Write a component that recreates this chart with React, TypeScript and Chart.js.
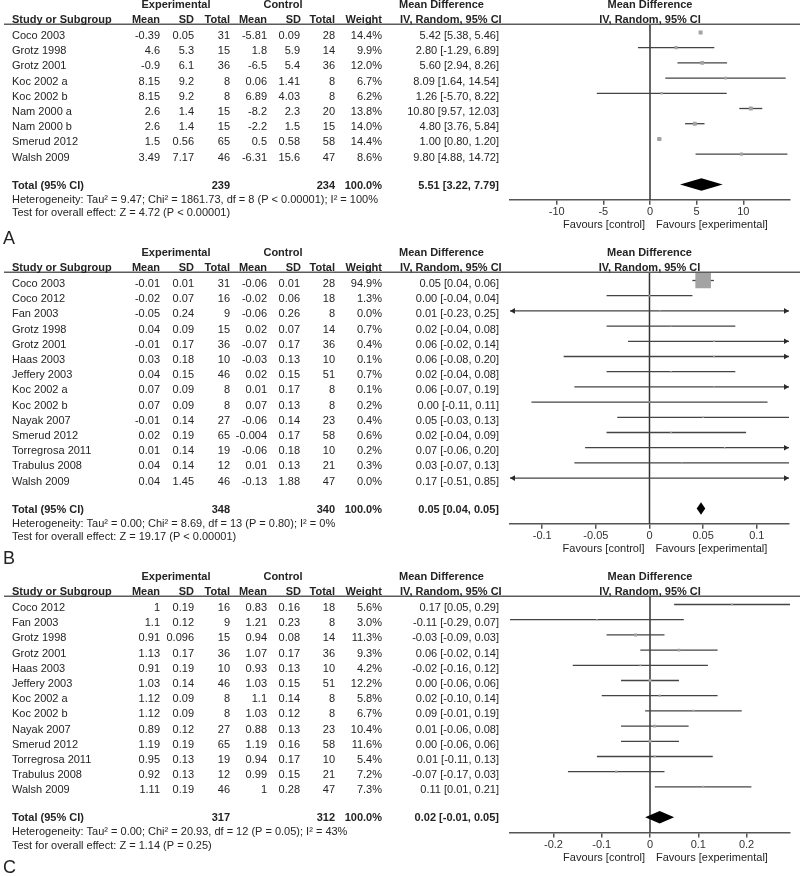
import React, { useEffect, useRef } from "react";
import { Chart, registerables } from "chart.js";

Chart.register(...registerables);

const FONT = '"Liberation Sans", Arial, Helvetica, sans-serif';
const TEXT = "#242424";

// ---------------- Panel A ----------------
const A_STUDIES = ["Coco 2003", "Grotz 1998", "Grotz 2001", "Koc 2002 a", "Koc 2002 b", "Nam 2000 a", "Nam 2000 b", "Smerud 2012", "Walsh 2009"];
const A_EXP_MEAN = [-0.39, 4.6, -0.9, 8.15, 8.15, 2.6, 2.6, 1.5, 3.49];
const A_EXP_SD = [0.05, 5.3, 6.1, 9.2, 9.2, 1.4, 1.4, 0.56, 7.17];
const A_EXP_N = [31, 15, 36, 8, 8, 15, 15, 65, 46];
const A_CTL_MEAN = [-5.81, 1.8, -6.5, 0.06, 6.89, -8.2, -2.2, 0.5, -6.31];
const A_CTL_SD = [0.09, 5.9, 5.4, 1.41, 4.03, 2.3, 1.5, 0.58, 15.6];
const A_CTL_N = [28, 14, 36, 8, 8, 20, 15, 58, 47];
const A_WEIGHT = [14.4, 9.9, 12.0, 6.7, 6.2, 13.8, 14.0, 14.4, 8.6];
const A_MD = [5.42, 2.8, 5.6, 8.09, 1.26, 10.8, 4.8, 1.0, 9.8];
const A_LO = [5.38, -1.29, 2.94, 1.64, -5.7, 9.57, 3.76, 0.8, 4.88];
const A_HI = [5.46, 6.89, 8.26, 14.54, 8.22, 12.03, 5.84, 1.2, 14.72];
const A_POOLED = [5.51, 3.22, 7.79];
const A_HET = "Heterogeneity: Tau² = 9.47; Chi² = 1861.73, df = 8 (P < 0.00001); I² = 100%";
const A_TEST = "Test for overall effect: Z = 4.72 (P < 0.00001)";
const A_TICKS = [-10, -5, 0, 5, 10];
const A_TICK_LABELS = ["-10", "-5", "0", "5", "10"];
const A_RANGE = [-15, 15];

// ---------------- Panel B ----------------
const B_STUDIES = ["Coco 2003", "Coco 2012", "Fan 2003", "Grotz 1998", "Grotz 2001", "Haas 2003", "Jeffery 2003", "Koc 2002 a", "Koc 2002 b", "Nayak 2007", "Smerud 2012", "Torregrosa 2011", "Trabulus 2008", "Walsh 2009"];
const B_EXP_MEAN = [-0.01, -0.02, -0.05, 0.04, -0.01, 0.03, 0.04, 0.07, 0.07, -0.01, 0.02, 0.01, 0.04, 0.04];
const B_EXP_SD = [0.01, 0.07, 0.24, 0.09, 0.17, 0.18, 0.15, 0.09, 0.09, 0.14, 0.19, 0.14, 0.14, 1.45];
const B_EXP_N = [31, 16, 9, 15, 36, 10, 46, 8, 8, 27, 65, 19, 12, 46];
const B_CTL_MEAN = [-0.06, -0.02, -0.06, 0.02, -0.07, -0.03, 0.02, 0.01, 0.07, -0.06, -0.004, -0.06, 0.01, -0.13];
const B_CTL_SD = [0.01, 0.06, 0.26, 0.07, 0.17, 0.13, 0.15, 0.17, 0.13, 0.14, 0.17, 0.18, 0.13, 1.88];
const B_CTL_N = [28, 18, 8, 14, 36, 10, 51, 8, 8, 23, 58, 10, 21, 47];
const B_WEIGHT = [94.9, 1.3, 0.0, 0.7, 0.4, 0.1, 0.7, 0.1, 0.2, 0.4, 0.6, 0.2, 0.3, 0.0];
const B_MD = [0.05, 0.0, 0.01, 0.02, 0.06, 0.06, 0.02, 0.06, 0.0, 0.05, 0.02, 0.07, 0.03, 0.17];
const B_LO = [0.04, -0.04, -0.23, -0.04, -0.02, -0.08, -0.04, -0.07, -0.11, -0.03, -0.04, -0.06, -0.07, -0.51];
const B_HI = [0.06, 0.04, 0.25, 0.08, 0.14, 0.2, 0.08, 0.19, 0.11, 0.13, 0.09, 0.2, 0.13, 0.85];
const B_POOLED = [0.048, 0.044, 0.052];
const B_HET = "Heterogeneity: Tau² = 0.00; Chi² = 8.69, df = 13 (P = 0.80); I² = 0%";
const B_TEST = "Test for overall effect: Z = 19.17 (P < 0.00001)";
const B_TICKS = [-0.1, -0.05, 0, 0.05, 0.1];
const B_TICK_LABELS = ["-0.1", "-0.05", "0", "0.05", "0.1"];
const B_RANGE = [-0.13, 0.13];

// ---------------- Panel C ----------------
const C_STUDIES = ["Coco 2012", "Fan 2003", "Grotz 1998", "Grotz 2001", "Haas 2003", "Jeffery 2003", "Koc 2002 a", "Koc 2002 b", "Nayak 2007", "Smerud 2012", "Torregrosa 2011", "Trabulus 2008", "Walsh 2009"];
const C_EXP_MEAN = [1, 1.1, 0.91, 1.13, 0.91, 1.03, 1.12, 1.12, 0.89, 1.19, 0.95, 0.92, 1.11];
const C_EXP_SD = [0.19, 0.12, 0.096, 0.17, 0.19, 0.14, 0.09, 0.09, 0.12, 0.19, 0.13, 0.13, 0.19];
const C_EXP_N = [16, 9, 15, 36, 10, 46, 8, 8, 27, 65, 19, 12, 46];
const C_CTL_MEAN = [0.83, 1.21, 0.94, 1.07, 0.93, 1.03, 1.1, 1.03, 0.88, 1.19, 0.94, 0.99, 1];
const C_CTL_SD = [0.16, 0.23, 0.08, 0.17, 0.13, 0.15, 0.14, 0.12, 0.13, 0.16, 0.17, 0.15, 0.28];
const C_CTL_N = [18, 8, 14, 36, 10, 51, 8, 8, 23, 58, 10, 21, 47];
const C_WEIGHT = [5.6, 3.0, 11.3, 9.3, 4.2, 12.2, 5.8, 6.7, 10.4, 11.6, 5.4, 7.2, 7.3];
const C_MD = [0.17, -0.11, -0.03, 0.06, -0.02, 0.0, 0.02, 0.09, 0.01, 0.0, 0.01, -0.07, 0.11];
const C_LO = [0.05, -0.29, -0.09, -0.02, -0.16, -0.06, -0.1, -0.01, -0.06, -0.06, -0.11, -0.17, 0.01];
const C_HI = [0.29, 0.07, 0.03, 0.14, 0.12, 0.06, 0.14, 0.19, 0.08, 0.06, 0.13, 0.03, 0.21];
const C_POOLED = [0.02, -0.01, 0.05];
const C_HET = "Heterogeneity: Tau² = 0.00; Chi² = 20.93, df = 12 (P = 0.05); I² = 43%";
const C_TEST = "Test for overall effect: Z = 1.14 (P = 0.25)";
const C_TICKS = [-0.2, -0.1, 0, 0.1, 0.2];
const C_TICK_LABELS = ["-0.2", "-0.1", "0", "0.1", "0.2"];
const C_RANGE = [-0.29, 0.29];

const TOTAL_WEIGHT = "100.0%";

type Panel = {
  label: string;
  top: number;
  height: number;
  mark0: number;
  labelY: number;
  sq: number;
  studies: string[];
  expMean: number[];
  expSD: number[];
  expN: number[];
  ctlMean: number[];
  ctlSD: number[];
  ctlN: number[];
  weight: number[];
  md: number[];
  lo: number[];
  hi: number[];
  pooled: number[];
  het: string;
  test: string;
  ticks: number[];
  tickLabels: string[];
  range: number[];
};

const PANELS: Panel[] = [
  {
    label: "A", top: 0, height: 250, mark0: 32.5, labelY: 239, sq: 1.05,
    studies: A_STUDIES, expMean: A_EXP_MEAN, expSD: A_EXP_SD, expN: A_EXP_N,
    ctlMean: A_CTL_MEAN, ctlSD: A_CTL_SD, ctlN: A_CTL_N, weight: A_WEIGHT,
    md: A_MD, lo: A_LO, hi: A_HI, pooled: A_POOLED, het: A_HET, test: A_TEST,
    ticks: A_TICKS, tickLabels: A_TICK_LABELS, range: A_RANGE,
  },
  {
    label: "B", top: 240, height: 325, mark0: 40.5, labelY: 319, sq: 1.6,
    studies: B_STUDIES, expMean: B_EXP_MEAN, expSD: B_EXP_SD, expN: B_EXP_N,
    ctlMean: B_CTL_MEAN, ctlSD: B_CTL_SD, ctlN: B_CTL_N, weight: B_WEIGHT,
    md: B_MD, lo: B_LO, hi: B_HI, pooled: B_POOLED, het: B_HET, test: B_TEST,
    ticks: B_TICKS, tickLabels: B_TICK_LABELS, range: B_RANGE,
  },
  {
    label: "C", top: 562, height: 314, mark0: 42.5, labelY: 306, sq: 0.9,
    studies: C_STUDIES, expMean: C_EXP_MEAN, expSD: C_EXP_SD, expN: C_EXP_N,
    ctlMean: C_CTL_MEAN, ctlSD: C_CTL_SD, ctlN: C_CTL_N, weight: C_WEIGHT,
    md: C_MD, lo: C_LO, hi: C_HI, pooled: C_POOLED, het: C_HET, test: C_TEST,
    ticks: C_TICKS, tickLabels: C_TICK_LABELS, range: C_RANGE,
  },
];

const ROW_H = 15.2;
const TOP_ROWS = 0.55;
const BOTTOM_EXTRA = 2;
const TEXT_DY = 3.5;
const TICK_LEN = 5;
const TICK_PAD = 1;
const AXIS_H = TICK_LEN + 11 * 1.2 + 2 * TICK_PAD;
const PLOT_LEFT = 510;
const PLOT_RIGHT_PAD = 10;

const sum = (a: number[]) => a.reduce((s, v) => s + v, 0);
const ci = (m: number, l: number, h: number) => `${m.toFixed(2)} [${l.toFixed(2)}, ${h.toFixed(2)}]`;

function forestPlugin(p: Panel) {
  return {
    id: "forest" + p.label,
    beforeDatasetsDraw(chart: any) {
      const ctx = chart.ctx;
      const xs = chart.scales.x;
      const ys = chart.scales.y;
      const area = chart.chartArea;
      ctx.save();
      const x0 = xs.getPixelForValue(0);
      ctx.strokeStyle = "#333";
      ctx.lineWidth = 1.5;
      ctx.beginPath();
      ctx.moveTo(x0, area.top);
      ctx.lineTo(x0, area.bottom);
      ctx.stroke();
      ctx.strokeStyle = "#444";
      ctx.fillStyle = "#2a2a2a";
      ctx.lineWidth = 1.3;
      const [mn, mx] = p.range;
      p.md.forEach((_, i) => {
        const y = ys.getPixelForValue(i);
        const l = Math.max(p.lo[i], mn);
        const h = Math.min(p.hi[i], mx);
        const xl = xs.getPixelForValue(l);
        const xh = xs.getPixelForValue(h);
        ctx.beginPath();
        ctx.moveTo(xl, y);
        ctx.lineTo(xh, y);
        ctx.stroke();
        if (p.lo[i] < mn) {
          ctx.beginPath();
          ctx.moveTo(xl, y);
          ctx.lineTo(xl + 5, y - 2.8);
          ctx.lineTo(xl + 5, y + 2.8);
          ctx.closePath();
          ctx.fill();
        }
        if (p.hi[i] > mx) {
          ctx.beginPath();
          ctx.moveTo(xh, y);
          ctx.lineTo(xh - 5, y - 2.8);
          ctx.lineTo(xh - 5, y + 2.8);
          ctx.closePath();
          ctx.fill();
        }
      });
      ctx.restore();
    },
    afterDatasetsDraw(chart: any) {
      const ctx = chart.ctx;
      const xs = chart.scales.x;
      const ys = chart.scales.y;
      const n = p.studies.length;
      const yT = ys.getPixelForValue(n + 1);
      const [m, l, h] = p.pooled;
      ctx.save();
      ctx.fillStyle = "#000";
      ctx.beginPath();
      ctx.moveTo(xs.getPixelForValue(l), yT);
      ctx.lineTo(xs.getPixelForValue(m), yT - 6.3);
      ctx.lineTo(xs.getPixelForValue(h), yT);
      ctx.lineTo(xs.getPixelForValue(m), yT + 6.3);
      ctx.closePath();
      ctx.fill();
      ctx.restore();
    },
    afterDraw(chart: any) {
      const ctx = chart.ctx;
      const ys = chart.scales.y;
      const area = chart.chartArea;
      const n = p.studies.length;
      const cx = (area.left + area.right) / 2;
      ctx.save();
      ctx.strokeStyle = "#5c5c5c";
      ctx.lineWidth = 1.5;
      ctx.beginPath();
      ctx.moveTo(4, area.top);
      ctx.lineTo(800, area.top);
      ctx.stroke();

      ctx.fillStyle = TEXT;
      ctx.textBaseline = "middle";
      const t = (s: string, x: number, y: number, align: CanvasTextAlign) => {
        ctx.textAlign = align;
        ctx.fillText(s, x, y);
      };
      const y0 = ys.getPixelForValue(0);
      const h1 = y0 - 28;
      const h2 = y0 - 13;
      ctx.font = `bold 11px ${FONT}`;
      t("Experimental", 176, h1, "center");
      t("Control", 283, h1, "center");
      t("Mean Difference", 399, h1, "left");
      t("Mean Difference", cx, h1, "center");
      t("Study or Subgroup", 12, h2, "left");
      t("Mean", 160, h2, "right");
      t("SD", 194, h2, "right");
      t("Total", 230, h2, "right");
      t("Mean", 267, h2, "right");
      t("SD", 301, h2, "right");
      t("Total", 335, h2, "right");
      t("Weight", 382, h2, "right");
      t("IV, Random, 95% CI", 400, h2, "left");
      t("IV, Random, 95% CI", cx, h2, "center");

      ctx.font = `11px ${FONT}`;
      p.studies.forEach((s, i) => {
        const y = ys.getPixelForValue(i) + TEXT_DY;
        t(s, 12, y, "left");
        t(String(p.expMean[i]), 160, y, "right");
        t(String(p.expSD[i]), 194, y, "right");
        t(String(p.expN[i]), 230, y, "right");
        t(String(p.ctlMean[i]), 267, y, "right");
        t(String(p.ctlSD[i]), 300, y, "right");
        t(String(p.ctlN[i]), 335, y, "right");
        t(p.weight[i].toFixed(1) + "%", 382, y, "right");
        t(ci(p.md[i], p.lo[i], p.hi[i]), 499, y, "right");
      });

      const yT = ys.getPixelForValue(n + 1) + 1;
      ctx.font = `bold 11px ${FONT}`;
      t("Total (95% CI)", 12, yT, "left");
      t(String(sum(p.expN)), 230, yT, "right");
      t(String(sum(p.ctlN)), 335, yT, "right");
      t(TOTAL_WEIGHT, 382, yT, "right");
      t(ci(p.pooled[0], p.pooled[1], p.pooled[2]), 499, yT, "right");

      ctx.font = `11px ${FONT}`;
      t(p.het, 12, yT + 14, "left");
      t(p.test, 12, yT + 27.5, "left");

      const yF = area.bottom + 25.5;
      t("Favours [control]", cx - 5, yF, "right");
      t("Favours [experimental]", cx + 6, yF, "left");

      ctx.font = `18px ${FONT}`;
      t(p.label, 3, p.labelY, "left");
      ctx.restore();
    },
  };
}

function ForestPanel({ panel }: { panel: Panel }) {
  const ref = useRef<HTMLCanvasElement | null>(null);
  useEffect(() => {
    if (!ref.current) return;
    const n = panel.studies.length;
    const yMin = -TOP_ROWS;
    const yMax = n + BOTTOM_EXTRA;
    const areaTop = panel.mark0 - TOP_ROWS * ROW_H;
    const areaH = (yMax - yMin) * ROW_H;
    const padBottom = panel.height - areaTop - areaH - AXIS_H;
    const radii = panel.weight.map((w) => Math.max(1.5, panel.sq * Math.sqrt(w)) / Math.SQRT2);
    const chart = new Chart(ref.current, {
      type: "scatter",
      data: {
        datasets: [
          {
            data: panel.md.map((v, i) => ({ x: v, y: i })),
            pointStyle: "rect",
            pointRadius: radii,
            pointHoverRadius: radii,
            backgroundColor: "#a3a3a3",
            borderWidth: 0,
          },
        ],
      },
      options: {
        responsive: false,
        animation: false,
        devicePixelRatio: 1,
        events: [],
        layout: { padding: { left: PLOT_LEFT, right: PLOT_RIGHT_PAD, top: areaTop, bottom: padBottom } },
        plugins: { legend: { display: false }, tooltip: { enabled: false } },
        scales: {
          x: {
            type: "linear",
            position: "bottom",
            min: panel.range[0],
            max: panel.range[1],
            afterBuildTicks: (s: any) => {
              s.ticks = panel.ticks.map((v) => ({ value: v }));
            },
            ticks: {
              autoSkip: false,
              maxRotation: 0,
              minRotation: 0,
              padding: TICK_PAD,
              color: "#333",
              font: { family: FONT, size: 11 },
              callback: (_v: any, i: number) => panel.tickLabels[i],
            },
            grid: { drawOnChartArea: false, drawTicks: true, tickLength: TICK_LEN, color: "#555", lineWidth: 1.5 },
            border: { display: true, color: "#555", width: 1.5 },
          },
          y: { type: "linear", min: yMin, max: yMax, reverse: true, display: false },
        },
      } as any,
      plugins: [forestPlugin(panel)],
    });
    return () => chart.destroy();
  }, [panel]);
  return (
    <canvas
      ref={ref}
      width={800}
      height={panel.height}
      style={{ position: "absolute", left: 0, top: panel.top, width: 800, height: panel.height }}
    />
  );
}

export default function App() {
  return (
    <div style={{ position: "absolute", left: 0, top: 0, width: 800, height: 876, background: "#fff", overflow: "hidden" }}>
      {PANELS.map((p) => (
        <ForestPanel key={p.label} panel={p} />
      ))}
    </div>
  );
}
